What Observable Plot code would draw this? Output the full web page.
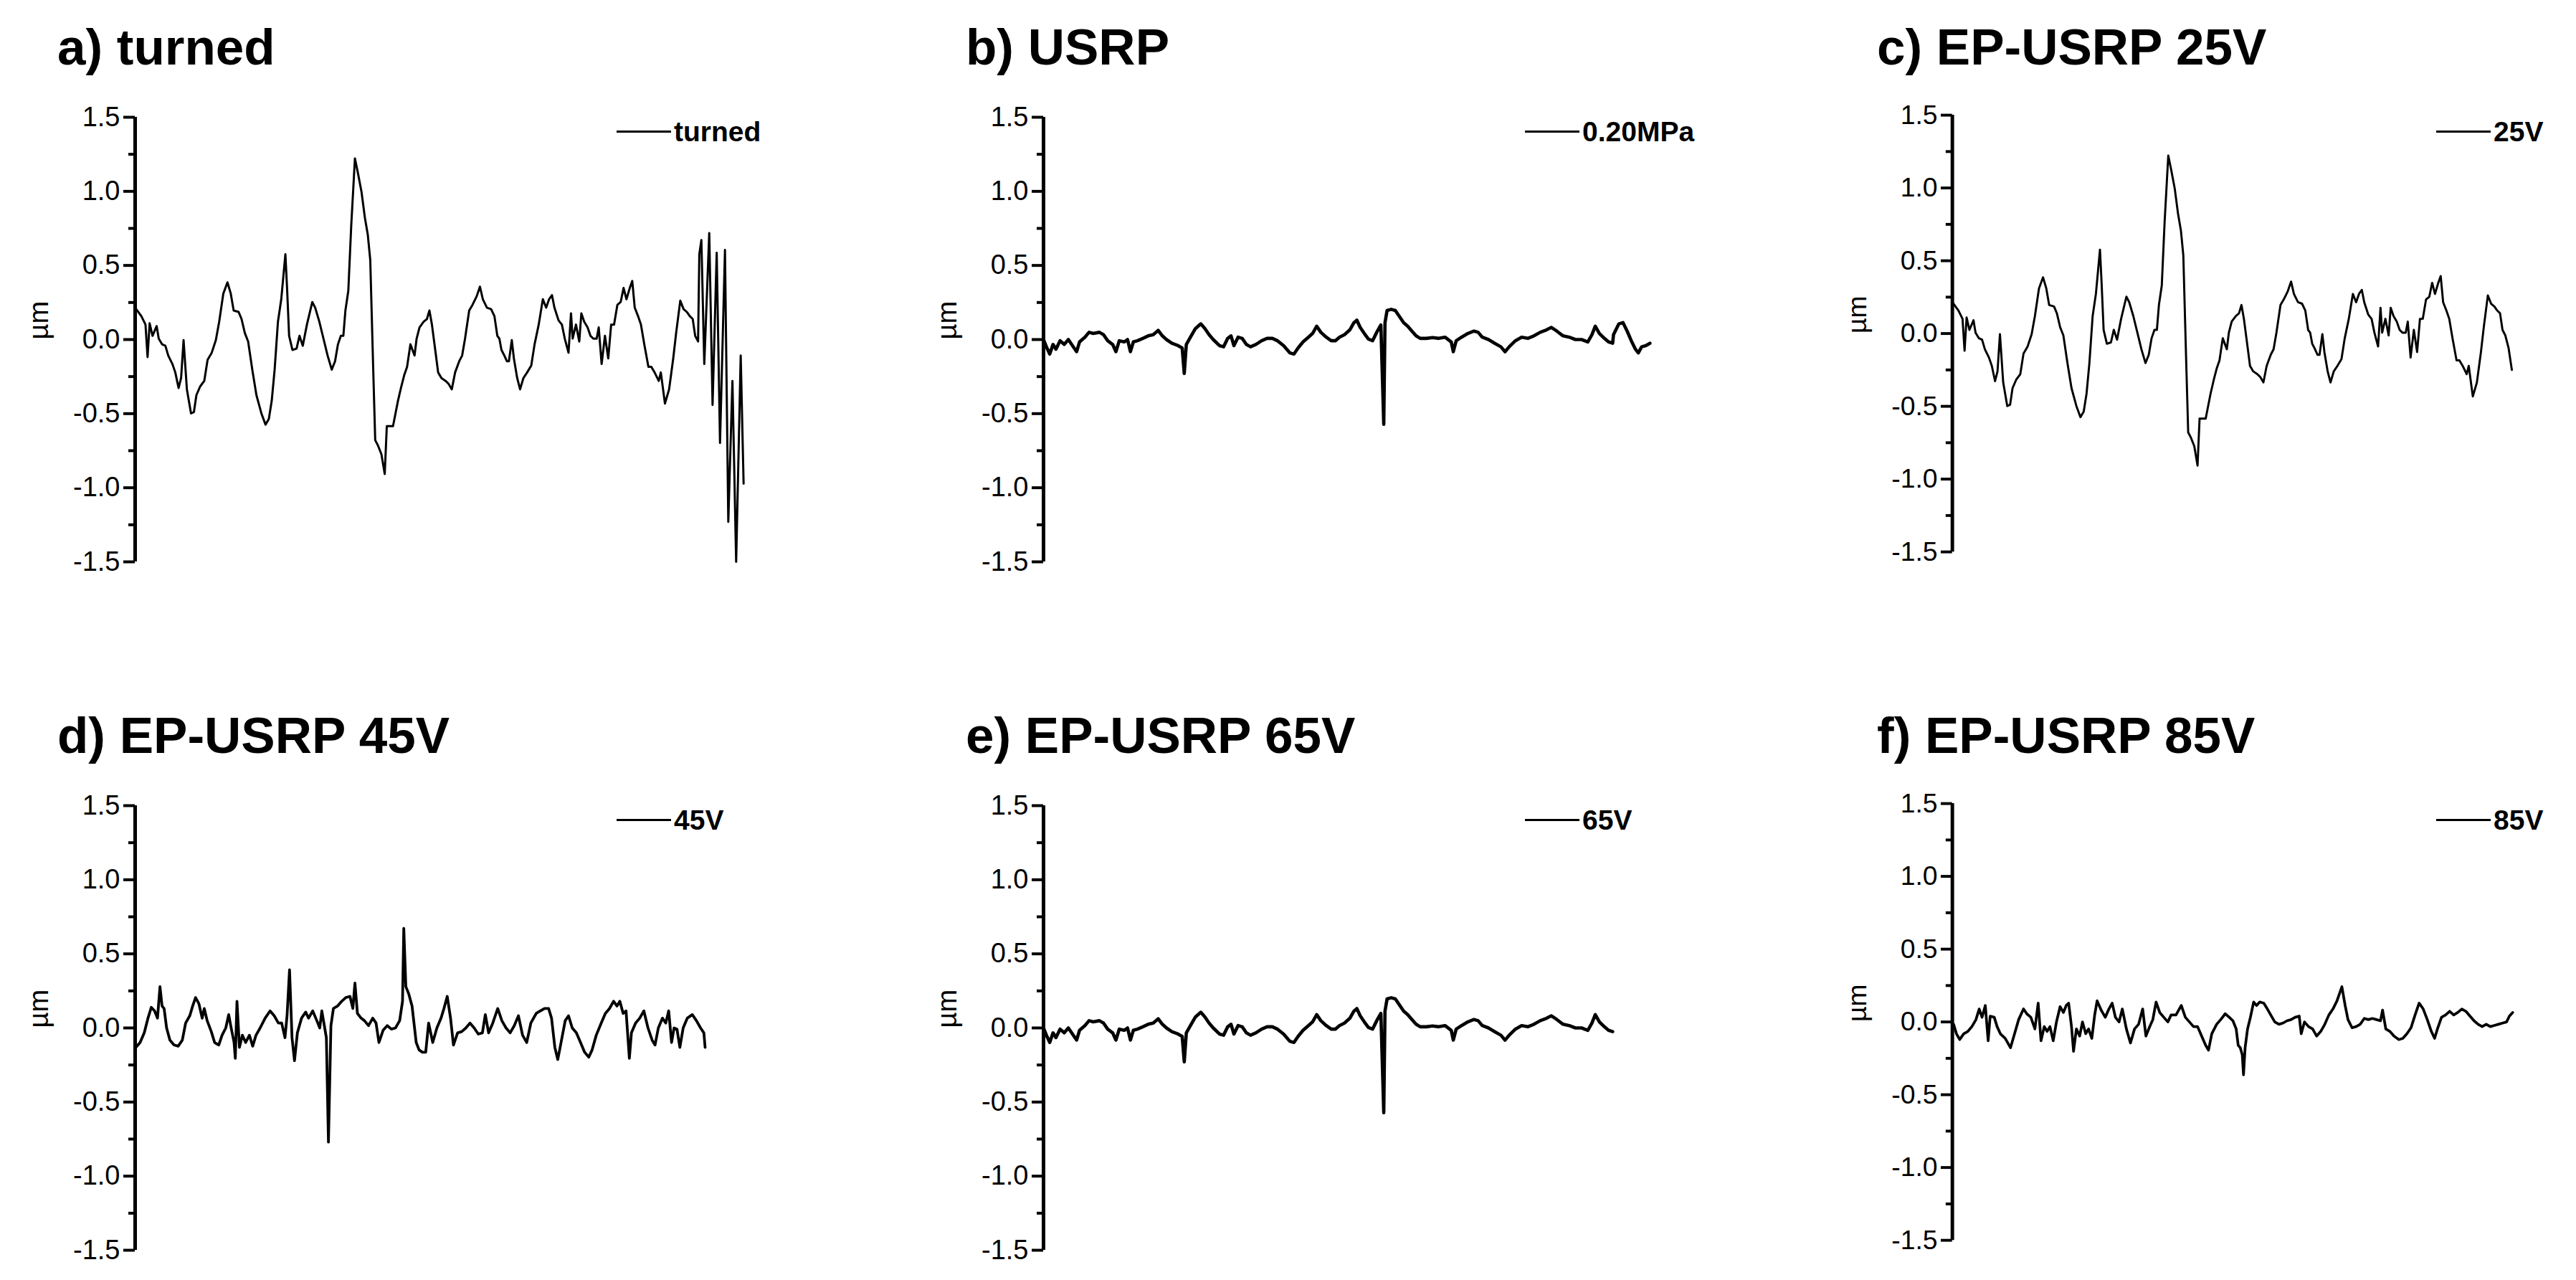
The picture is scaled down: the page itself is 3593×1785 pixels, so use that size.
<!DOCTYPE html>
<html><head><meta charset="utf-8">
<script src="https://cdn.jsdelivr.net/npm/d3@7"></script>
<script src="https://cdn.jsdelivr.net/npm/@observablehq/plot@0.6"></script>
<style>
html,body{margin:0;padding:0;background:#fff;}
#fig{position:relative;width:3593px;height:1785px;overflow:hidden;font-family:"Liberation Sans",Arial,sans-serif;color:#000;}
.panel{position:absolute;}
.title{position:absolute;font-weight:bold;font-size:71px;line-height:71px;white-space:nowrap;}
.leg{position:absolute;font-weight:bold;font-size:39px;line-height:39px;white-space:nowrap;}
.legline{position:absolute;height:3px;background:#000;}
</style></head><body><div id="fig"></div>
<script>
// ---- data: [position along the trace, height in µm] ----
const turnedShared = [[0,0.215],[15,0.158],[25,0.101],[30,-0.118],[35,0.110],[42,0.025],[52,0.091],[57,0.006],[65,-0.032],[73,-0.042],[80,-0.108],[90,-0.165],[97,-0.222],[105,-0.327],[111,-0.260],[117,-0.004],[125,-0.336],[135,-0.498],[142,-0.489],[148,-0.375],[157,-0.317],[167,-0.279],[175,-0.137],[185,-0.089],[195,-0.004],[203,0.120],[213,0.310],[223,0.386],[231,0.310],[238,0.196],[250,0.186],[257,0.139],[265,0.044],[273,-0.013],[283,-0.203],[293,-0.375],[305,-0.498],[315,-0.574],[323,-0.536],[330,-0.413],[337,-0.203],[345,0.120],[353,0.272],[363,0.576],[367,0.348],[372,0.025],[380,-0.070],[390,-0.061],[397,0.025],[405,-0.042],[415,0.101],[428,0.253],[435,0.215],[445,0.120],[455,0.006],[465,-0.108],[475,-0.203],[483,-0.146],[490,-0.032],[497,0.025],[503,0.025],[508,0.196],[515,0.329],[522,0.766],[531,1.222],[538,1.127],[547,0.994],[555,0.823],[562,0.709],[568,0.538],[575,-0.184],[580,-0.679],[587,-0.717],[595,-0.774],[603,-0.907],[608,-0.584],[615,-0.584],[623,-0.584],[635,-0.413],[643,-0.317],[650,-0.241],[657,-0.184],[665,-0.032],[675,-0.108],[680,0.006],[687,0.082],[697,0.120],[705,0.139],[711,0.196],[717,0.101],[725,-0.070],[732,-0.222],[740,-0.260],[750,-0.279],[757,-0.298],[765,-0.336],[773,-0.222],[783,-0.146],[790,-0.108],[797,0.006],[807,0.196],[815,0.234],[825,0.291],[833,0.357],[840,0.272],[850,0.215],[860,0.205],[868,0.158],[875,0.025],[880,0.006],[885,-0.070],[892,-0.108],[898,-0.146],[903,-0.146],[910,-0.004],[915,-0.127],[923,-0.260],[930,-0.336],[938,-0.260],[947,-0.222],[957,-0.175],[965,-0.032],[975,0.101],[985,0.272],[993,0.215],[1000,0.272],[1007,0.300],[1013,0.215],[1023,0.129],[1031,0.101],[1038,0.006],[1047,-0.089],[1053,0.177],[1057,0.006],[1065,0.101],[1073,-0.013],[1078,0.177],[1085,0.120],[1093,0.082],[1100,0.025],[1107,0.006],[1115,0.006],[1120,0.082],[1127,-0.165],[1135,0.025],[1143,-0.127],[1150,0.101],[1157,0.101],[1165,0.234],[1173,0.253],[1180,0.348],[1187,0.272],[1195,0.348],[1201,0.395],[1207,0.215],[1215,0.158],[1222,0.101],[1230,-0.032],[1240,-0.184],[1247,-0.184],[1255,-0.222],[1265,-0.279],[1270,-0.222],[1280,-0.432],[1290,-0.336],[1300,-0.127],[1307,0.044],[1317,0.262],[1325,0.205],[1333,0.186],[1340,0.158],[1347,0.139],[1353,0.025],[1360,-0.013]];
const turnedTail = [[1363,0.576],[1368,0.671],[1375,-0.165],[1387,0.719],[1395,-0.441],[1405,0.586],[1413,-0.698],[1425,0.605],[1433,-1.23],[1443,-0.28],[1452,-1.5],[1463,-0.108],[1470,-0.973]];
const ep25Tail = [[1368,-0.10],[1376,-0.25]];

const usrpShared = [[0,0],[7,-0.049],[15,-0.098],[23,-0.033],[30,-0.065],[40,-0.008],[50,-0.033],[60,0],[70,-0.041],[80,-0.082],[87,-0.016],[100,0.016],[110,0.049],[120,0.041],[135,0.049],[145,0.033],[155,-0.008],[167,-0.033],[175,-0.082],[183,-0.008],[195,-0.016],[203,0],[210,-0.082],[217,-0.016],[227,-0.008],[240,0.008],[253,0.025],[265,0.033],[277,0.062],[287,0.025],[297,0],[310,-0.025],[325,-0.041],[335,-0.057],[340,-0.229],[345,-0.033],[355,0.016],[367,0.074],[380,0.106],[390,0.074],[400,0.033],[410,0],[425,-0.041],[435,-0.049],[445,0.008],[453,0.025],[460,-0.041],[470,0.016],[480,0.008],[490,-0.033],[500,-0.049],[513,-0.033],[527,-0.008],[540,0.008],[553,0.008],[565,-0.008],[580,-0.041],[595,-0.090],[605,-0.098],[615,-0.057],[627,-0.016],[640,0.016],[650,0.041],[660,0.090],[670,0.049],[683,0.016],[695,-0.008],[705,-0.008],[715,0.016],[727,0.033],[740,0.065],[750,0.114],[757,0.131],[765,0.082],[775,0.041],[785,0.003],[795,-0.008],[805,0.049],[815,0.098],[822,-0.572],[825,0.114],[830,0.196],[840,0.204],[850,0.196],[860,0.155],[870,0.114],[880,0.090],[890,0.057],[900,0.025],[910,0.008],[925,0.008],[940,0.013],[955,0.008],[970,0.016],[985,-0.016],[990,-0.082],[997,-0.008],[1010,0.016],[1025,0.041],[1040,0.057],[1050,0.049],[1060,0.016],[1075,0],[1090,-0.025],[1105,-0.049],[1115,-0.082],[1125,-0.049],[1140,-0.008],[1155,0.016],[1170,0.008],[1185,0.025],[1200,0.049],[1215,0.065],[1227,0.082],[1240,0.057],[1255,0.025],[1270,0.016],[1285,0],[1300,0],[1315,-0.016],[1325,0.033],[1333,0.090],[1343,0.041],[1355,0.008],[1365,-0.016],[1375,-0.025]];
const usrpTail = [[1377,0.033],[1390,0.106],[1400,0.114],[1410,0.057],[1420,-0.008],[1430,-0.065],[1437,-0.090],[1445,-0.049],[1455,-0.041],[1465,-0.025]];

const ep45 = [[2,-0.131],[12,-0.098],[22,-0.033],[31,0.066],[39,0.139],[47,0.115],[54,0.066],[60,0.279],[65,0.148],[70,0.131],[76,0],[84,-0.082],[94,-0.115],[104,-0.123],[114,-0.082],[122,0.033],[132,0.082],[139,0.148],[146,0.205],[154,0.164],[162,0.066],[167,0.131],[174,0.049],[184,-0.025],[192,-0.098],[202,-0.115],[210,-0.049],[219,0],[226,0.090],[232,0],[239,-0.098],[242,-0.205],[246,0.180],[252,-0.131],[259,-0.049],[267,-0.098],[276,-0.049],[284,-0.123],[292,-0.049],[302,0],[314,0.066],[326,0.115],[336,0.082],[346,0.033],[354,0.033],[362,-0.066],[367,0.082],[373,0.393],[379,-0.066],[385,-0.221],[392,-0.033],[402,0.066],[412,0.107],[419,0.066],[429,0.115],[439,0.049],[446,0],[451,0.115],[456,0.033],[462,-0.066],[467,-0.770],[473,0.016],[479,0.131],[489,0.148],[499,0.180],[509,0.205],[519,0.213],[526,0.131],[531,0.303],[537,0.098],[546,0.066],[554,0.049],[564,0.016],[574,0.066],[582,0.033],[589,-0.098],[599,-0.016],[609,0.016],[619,-0.008],[629,0],[639,0.049],[646,0.180],[649,0.672],[654,0.279],[661,0.230],[669,0.148],[679,-0.098],[686,-0.148],[694,-0.164],[702,-0.164],[709,0.033],[719,-0.098],[729,0],[739,0.066],[746,0.131],[754,0.213],[762,0.066],[769,-0.115],[779,-0.033],[789,-0.025],[799,0],[809,0.033],[819,0],[829,-0.041],[839,-0.033],[846,0.090],[854,-0.033],[864,0.033],[876,0.131],[886,0.049],[896,0],[906,-0.033],[916,0.016],[926,0.082],[936,-0.049],[946,-0.098],[956,0.033],[969,0.098],[979,0.115],[989,0.131],[999,0.131],[1006,0.066],[1014,-0.131],[1021,-0.213],[1029,-0.098],[1039,0.049],[1047,0.082],[1056,0],[1066,-0.033],[1076,-0.098],[1086,-0.164],[1096,-0.197],[1104,-0.148],[1114,-0.049],[1126,0.033],[1136,0.098],[1146,0.131],[1156,0.180],[1164,0.148],[1171,0.180],[1179,0.098],[1186,0.115],[1194,-0.205],[1199,-0.033],[1209,0.033],[1219,0.066],[1229,0.115],[1239,0],[1249,-0.082],[1256,-0.115],[1264,0],[1274,0.066],[1282,0.033],[1289,0.115],[1296,-0.098],[1302,0],[1309,-0.008],[1316,-0.131],[1324,0],[1334,0.066],[1346,0.090],[1356,0.049],[1366,0],[1374,-0.033],[1377,-0.131]];

const ep85 = [[3,-0.016],[10,-0.081],[18,-0.121],[28,-0.081],[38,-0.065],[48,-0.032],[58,0.016],[66,0.089],[73,0.032],[81,0.113],[88,-0.129],[93,0.040],[103,0.032],[110,-0.032],[118,-0.081],[130,-0.113],[143,-0.177],[153,-0.081],[163,0.016],[175,0.089],[183,0.056],[193,0.032],[203,-0.048],[211,0.129],[218,-0.129],[226,-0.032],[233,-0.065],[240,-0.032],[248,-0.129],[256,0],[265,0.105],[273,0.065],[280,0.113],[286,0.129],[293,-0.032],[298,-0.202],[305,-0.048],[313,-0.097],[320,0],[328,-0.081],[335,-0.048],[343,-0.113],[350,0.048],[356,0.145],[366,0.081],[376,0.032],[385,0.089],[393,0.129],[401,0.032],[410,0],[418,0.089],[428,-0.048],[438,-0.145],[448,-0.048],[458,-0.016],[468,0.089],[476,-0.097],[483,-0.048],[493,0.016],[501,0.137],[510,0.065],[520,0.032],[530,0],[538,0.048],[550,0.048],[563,0.113],[573,0.032],[583,0],[593,-0.032],[603,-0.032],[613,-0.097],[623,-0.161],[630,-0.194],[638,-0.081],[650,-0.016],[660,0.016],[671,0.056],[681,0.032],[690,0.008],[698,-0.048],[703,-0.161],[708,-0.177],[713,-0.226],[716,-0.363],[720,-0.177],[726,-0.048],[733,0.032],[741,0.137],[748,0.113],[756,0.137],[766,0.129],[773,0.097],[783,0.048],[793,0],[803,-0.016],[813,-0.008],[823,0.008],[833,0.016],[843,0.032],[853,0.040],[858,-0.081],[866,0],[876,-0.032],[886,-0.048],[896,-0.097],[906,-0.065],[916,-0.016],[926,0.048],[936,0.089],[946,0.145],[958,0.242],[966,0.113],[973,0.016],[983,-0.040],[993,-0.032],[1003,-0.016],[1013,0.024],[1023,0.016],[1033,0.024],[1043,0.016],[1053,0.008],[1058,0.081],[1066,-0.048],[1076,-0.065],[1086,-0.097],[1098,-0.121],[1108,-0.113],[1118,-0.081],[1128,-0.040],[1138,0.048],[1148,0.129],[1158,0.089],[1168,0.016],[1178,-0.065],[1186,-0.113],[1193,-0.048],[1203,0.032],[1213,0.048],[1223,0.073],[1233,0.048],[1243,0.065],[1253,0.089],[1263,0.073],[1273,0.040],[1283,0.008],[1293,-0.016],[1303,-0.032],[1313,-0.016],[1323,-0.032],[1333,-0.024],[1343,-0.016],[1353,-0.008],[1363,0],[1370,0.040],[1378,0.065]];

const titles = ["a) turned", "b) USRP", "c) EP-USRP 25V", "d) EP-USRP 45V", "e) EP-USRP 65V", "f) EP-USRP 85V"];
const legendLabels = ["turned", "0.20MPa", "25V", "45V", "65V", "85V"];
const yTicks = [-1.5, -1.0, -0.5, 0, 0.5, 1.0, 1.5];
const yMinorTicks = [-1.25, -0.75, -0.25, 0.25, 0.75, 1.25];
const yLabel = "µm";

// ---- layout ----
const seriesList = [
  turnedShared.concat(turnedTail),
  usrpShared.concat(usrpTail),
  turnedShared.concat(ep25Tail),
  ep45,
  usrpShared,
  ep85
];
const lineWidths = [3, 4.6, 3, 3.8, 4.6, 3.8];
const colAxisX = [188, 1455, 2726];
const rowTop = [0, 960];

const fig = document.getElementById("fig");
const FONT = "'Liberation Sans', Arial, Helvetica, sans-serif";

seriesList.forEach((series, i) => {
  const col = i % 3, row = Math.floor(i / 3);
  const ax = colAxisX[col], top = rowTop[row];

  const chart = Plot.plot({
    width: 1074, height: 823,
    marginLeft: 188, marginRight: 20, marginTop: 163, marginBottom: 40,
    x: {domain: [0, 1500], axis: null},
    y: {domain: [-1.5, 1.5]},
    style: {fontFamily: FONT, fontSize: "38px", background: "transparent", overflow: "visible", color: "#000"},
    marks: [
      Plot.axisY({ticks: yMinorTicks, tickSize: 9, strokeWidth: 4, tickFormat: () => "", label: null}),
      Plot.axisY({ticks: yTicks, tickSize: 16, tickPadding: 5, strokeWidth: 4, tickFormat: d => d.toFixed(1), label: null, fontSize: 38}),
      Plot.ruleX([0], {stroke: "#000", strokeWidth: 5}),
      Plot.line(series, {x: d => d[0], y: d => d[1], stroke: "#000", strokeWidth: lineWidths[i], strokeLinejoin: "round"}),
      Plot.text([yLabel], {frameAnchor: "left", rotate: -90, dx: -134, fontSize: 38})
    ]
  });
  const wrap = document.createElement("div");
  wrap.className = "panel";
  wrap.style.left = (ax - 188) + "px";
  wrap.style.top = top + "px";
  wrap.appendChild(chart);
  fig.appendChild(wrap);

  const t = document.createElement("div");
  t.className = "title";
  t.textContent = titles[i];
  t.style.left = (ax - 108) + "px";
  t.style.top = (top + 30) + "px";
  fig.appendChild(t);

  const ll = document.createElement("div");
  ll.className = "legline";
  ll.style.left = (ax + 672) + "px";
  ll.style.width = "76px";
  ll.style.top = (top + 182) + "px";
  fig.appendChild(ll);

  const lt = document.createElement("div");
  lt.className = "leg";
  lt.textContent = legendLabels[i];
  lt.style.left = (ax + 752) + "px";
  lt.style.top = (top + 164) + "px";
  fig.appendChild(lt);
});
</script></body></html>
